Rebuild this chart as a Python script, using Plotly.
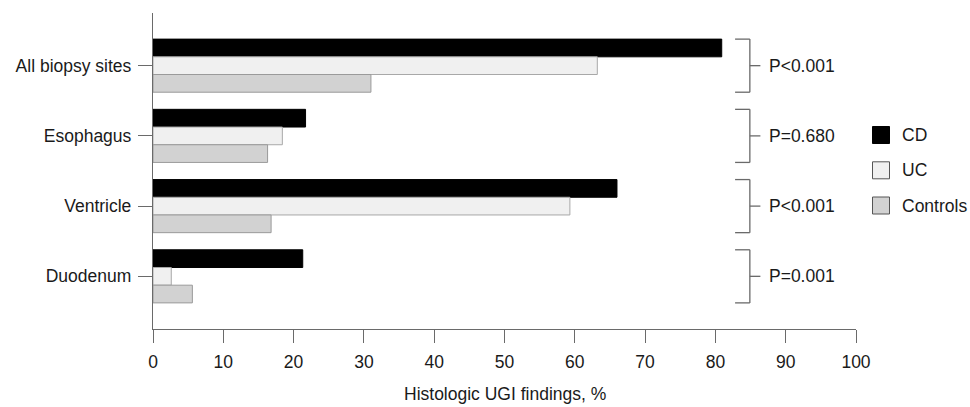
import plotly.graph_objects as go

# Biopsy sites (top to bottom) and the share of patients with histologic UGI findings
sites = ["All biopsy sites", "Esophagus", "Ventricle", "Duodenum"]
cd_values = [80.9, 21.7, 66.0, 21.3]
uc_values = [63.2, 18.4, 59.3, 2.6]
control_values = [31.0, 16.3, 16.8, 5.6]
p_values = ["P<0.001", "P=0.680", "P<0.001", "P=0.001"]

series_names = ["CD", "UC", "Controls"]
series_values = [cd_values, uc_values, control_values]
fill_colors = ["#000000", "#f0f0f0", "#d2d2d2"]
edge_colors = ["#000000", "#a8a8a8", "#9a9a9a"]

FONT = "Liberation Sans"
FS = 17.5
TEXT = "#1a1a1a"
AXIS = "#6a6a6a"
BARGAP = 0.244

fig = go.Figure()
for name, vals, fc, ec in zip(series_names, series_values, fill_colors, edge_colors):
    fig.add_trace(go.Bar(
        name=name, y=sites, x=vals, orientation="h",
        marker=dict(color=fc, line=dict(color=ec, width=1)),
        showlegend=False,
    ))

# Brackets with p-values beside each group of bars
half = (1 - BARGAP) / 2
bx0, bx1, bx2, tx = 82.8, 84.9, 86.4, 87.4
shapes = []
annotations = []
line_style = dict(color=AXIS, width=1.3)
for i, p in enumerate(p_values):
    top, bot = i - half, i + half
    shapes += [
        dict(type="line", xref="x", yref="y", x0=bx0, x1=bx1, y0=top, y1=top, line=line_style),
        dict(type="line", xref="x", yref="y", x0=bx1, x1=bx1, y0=top, y1=bot, line=line_style),
        dict(type="line", xref="x", yref="y", x0=bx0, x1=bx1, y0=bot, y1=bot, line=line_style),
        dict(type="line", xref="x", yref="y", x0=bx1, x1=bx2, y0=i, y1=i, line=line_style),
    ]
    annotations.append(dict(
        xref="x", yref="y", x=tx, y=i, text=p, showarrow=False,
        xanchor="left", yanchor="middle", font=dict(family=FONT, size=FS, color=TEXT),
    ))

# Legend: swatches and labels to the right of the plot
L, R, T, B = 153, 114, 13, 78
W, H = 970, 407
pw, ph = W - L - R, H - T - B
def px_to_paper_x(px):
    return (px - L) / pw
def px_to_paper_y(py):
    return 1 - (py - T) / ph

legend_rows = [135.0, 170.3, 205.5]
for name, fc, ec, yc in zip(series_names, fill_colors, edge_colors, legend_rows):
    shapes.append(dict(
        type="rect", xref="paper", yref="paper",
        x0=px_to_paper_x(872.5), x1=px_to_paper_x(889.5),
        y0=px_to_paper_y(yc + 8.5), y1=px_to_paper_y(yc - 8.5),
        fillcolor=fc, line=dict(color="#555555" if name != "CD" else "#000000", width=1),
    ))
    annotations.append(dict(
        xref="paper", yref="paper", x=px_to_paper_x(900), y=px_to_paper_y(yc),
        text=name, showarrow=False, xanchor="left", yanchor="middle",
        font=dict(family=FONT, size=FS, color=TEXT),
    ))

# x-axis title, kept just inside the bottom edge
annotations.append(dict(
    xref="paper", yref="paper", x=0.5, y=px_to_paper_y(406),
    text="Histologic UGI findings, %", showarrow=False,
    xanchor="center", yanchor="bottom",
    font=dict(family=FONT, size=FS, color=TEXT),
))

fig.update_layout(
    width=W, height=H,
    margin=dict(l=L, r=R, t=T, b=B, pad=0),
    paper_bgcolor="white", plot_bgcolor="white",
    barmode="group", bargap=BARGAP, bargroupgap=0,
    font=dict(family=FONT, size=FS, color=TEXT),
    shapes=shapes, annotations=annotations,
    showlegend=False,
)
fig.update_xaxes(
    range=[0, 100], tickvals=list(range(0, 101, 10)),
    showgrid=False, zeroline=False, automargin=False,
    showline=True, linecolor=AXIS, linewidth=1.3,
    ticks="outside", ticklen=13, tickwidth=1.3, tickcolor=AXIS,
    ticklabelstandoff=4,
    tickfont=dict(family=FONT, size=FS, color=TEXT),
)
fig.update_yaxes(
    type="category", categoryorder="array", categoryarray=sites,
    range=[len(sites) - 0.25, -0.75],
    showgrid=False, zeroline=False, automargin=False,
    showline=True, linecolor=AXIS, linewidth=1.3,
    ticks="outside", ticklen=14, tickwidth=1.3, tickcolor=AXIS,
    ticklabelstandoff=3,
    tickfont=dict(family=FONT, size=FS, color=TEXT),
)

fig.write_html("out.html")
